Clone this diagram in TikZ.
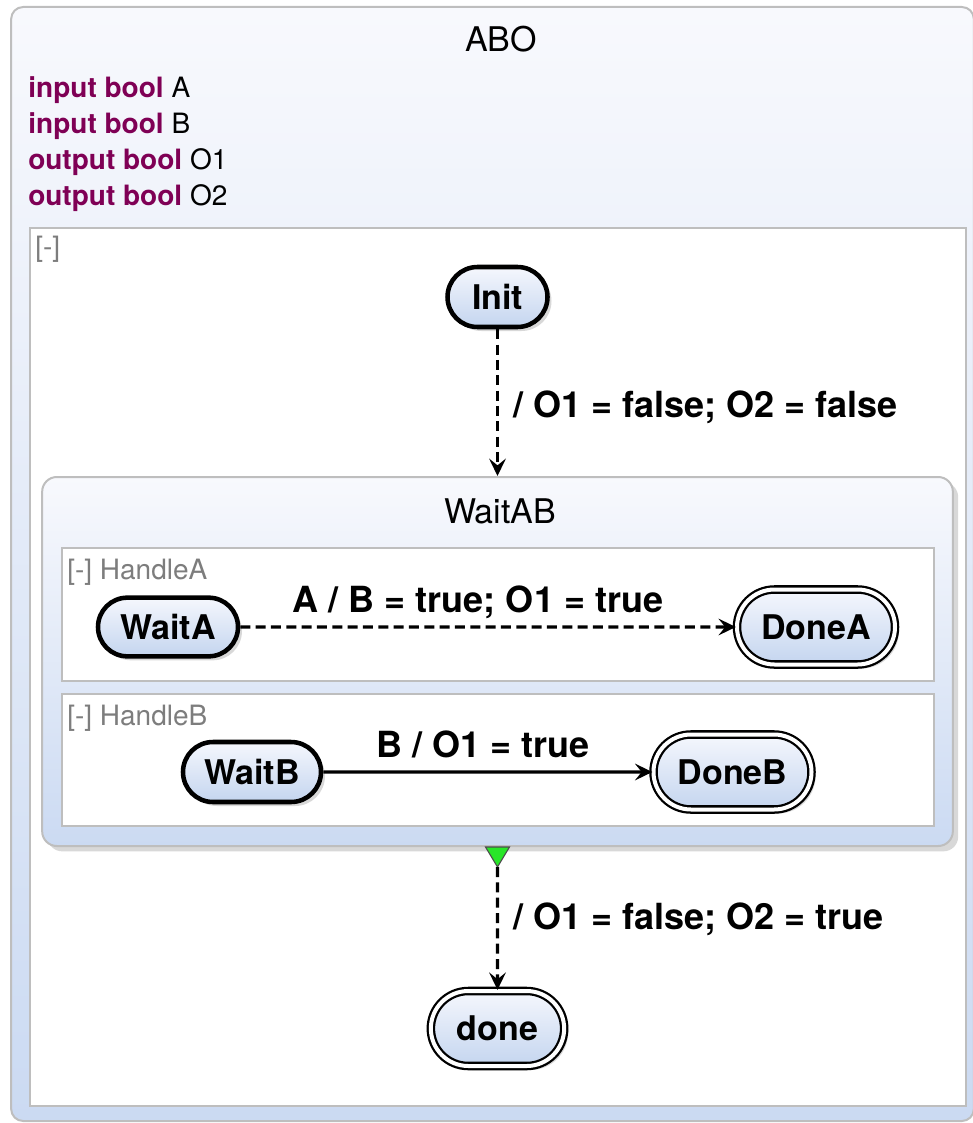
\documentclass[tikz,border=0pt]{standalone}
\usepackage{fontspec}
\setmainfont{TeX Gyre Heros}
\usetikzlibrary{shapes.misc,shadows,arrows.meta,calc}
\definecolor{kw}{RGB}{127,0,85}
\definecolor{boxgrey}{RGB}{190,190,190}
\definecolor{bluetop}{RGB}{248,249,253}
\definecolor{bluebot}{RGB}{203,218,242}
\definecolor{nodetop}{RGB}{245,247,253}
\definecolor{nodebot}{RGB}{196,213,239}
\definecolor{labgrey}{RGB}{125,125,125}
\definecolor{initgreen}{RGB}{40,230,40}
\begin{document}
\begin{tikzpicture}[x=0.75pt,y=-0.75pt,
  outerbox/.style={rectangle, rounded corners=9pt, draw=boxgrey, line width=1.5pt,
    top color=bluetop, bottom color=bluebot, inner sep=0pt},
  regionbox/.style={rectangle, draw=boxgrey, line width=1.5pt, fill=white, inner sep=0pt},
  compbox/.style={rectangle, rounded corners=11pt, draw=boxgrey, line width=1.5pt,
    top color=bluetop, bottom color=bluebot, inner sep=0pt,
    drop shadow={shadow xshift=4pt, shadow yshift=-4pt, opacity=0.3}},
  statebox/.style={rounded rectangle, draw=black, line width=3.4pt,
    top color=nodetop, bottom color=nodebot, inner sep=0pt,
    font=\fontsize{25.5}{30}\selectfont\bfseries,
    drop shadow={shadow xshift=3pt, shadow yshift=-3pt, opacity=0.3}},
  finalbox/.style={rounded rectangle, draw=black, line width=1.7pt, double=white,
    double distance=3pt, top color=nodetop, bottom color=nodebot, inner sep=0pt,
    font=\fontsize{25.5}{30}\selectfont\bfseries,
    drop shadow={shadow xshift=3pt, shadow yshift=-3pt, opacity=0.3}},
  trans/.style={line width=2.6pt, -{Stealth[length=13pt,width=12.5pt,inset=5pt]}},
  dashtrans/.style={dash pattern=on 7.5pt off 4pt},
  tlabel/.style={inner sep=0pt, font=\fontsize{27}{32}\selectfont\bfseries},
  decl/.style={inner sep=0pt, anchor=base west, font=\fontsize{21}{25}\selectfont},
  reglabel/.style={inner sep=0pt, anchor=base west, text=labgrey, font=\fontsize{21}{25}\selectfont},
  titlelabel/.style={inner sep=0pt, anchor=base, font=\fontsize{25.5}{30}\selectfont}
]
\useasboundingbox (0,0) rectangle (973,1123);
% outer state ABO
\node[outerbox, minimum width=722pt, minimum height=835.5pt] (ABO) at (492.5,564) {};
\node[titlelabel] (ABOtitle) at (501,52) {ABO};
\node[decl] (d1) at (28,98) {\textcolor{kw}{\bfseries input bool} A};
\node[decl] (d2) at (28,134) {\textcolor{kw}{\bfseries input bool} B};
\node[decl] (d3) at (28,170) {\textcolor{kw}{\bfseries output bool} O1};
\node[decl] (d4) at (28,206) {\textcolor{kw}{\bfseries output bool} O2};
% body region
\node[regionbox, minimum width=702pt, minimum height=658.5pt] (body) at (498,667) {};
\node[reglabel] (bodylab) at (35,256) {[-]};
% Init
\node[statebox, minimum width=75pt, minimum height=45pt] (Init) at (497.5,297) {Init};
% WaitAB
\node[compbox, minimum width=683pt, minimum height=276.75pt] (WaitAB) at (497.5,661.5) {};
\node[titlelabel] (WaitABtitle) at (500,523) {WaitAB};
\node[regionbox, minimum width=654pt, minimum height=99.75pt] (HandleA) at (498,614.5) {};
\node[reglabel] (HandleAlab) at (67,579) {[-] HandleA};
\node[regionbox, minimum width=654pt, minimum height=99pt] (HandleB) at (498,760) {};
\node[reglabel] (HandleBlab) at (67,725) {[-] HandleB};
\node[statebox, minimum width=105pt, minimum height=44pt] (WaitA) at (168,627) {WaitA};
\node[finalbox, minimum width=118.5pt, minimum height=56.25pt] (DoneA) at (816,627) {DoneA};
\node[statebox, minimum width=103.5pt, minimum height=45pt] (WaitB) at (252,772) {WaitB};
\node[finalbox, minimum width=118.5pt, minimum height=56.25pt] (DoneB) at (732.5,772) {DoneB};
\node[finalbox, minimum width=100pt, minimum height=56.25pt] (done) at (497.5,1028.5) {done};
% transitions
\draw[trans, dashtrans] (Init.south) -- (Init.south |- WaitAB.north);
\node[tlabel, anchor=base west] (l1) at (513,417) {/ O1 = false; O2 = false};
\draw[trans, dashtrans] (WaitA) -- (DoneA);
\node[tlabel, anchor=base] (l2) at (478,612) {A / B = true; O1 = true};
\draw[trans] (WaitB) -- (DoneB);
\node[tlabel, anchor=base] (l3) at (483,757) {B / O1 = true};
\coordinate (tipTop) at (WaitAB.south);
\coordinate (tip) at ($(WaitAB.south)+(0,20)$);
\draw[fill=initgreen, draw=black!70, line width=0.8pt] ($(tipTop)+(-12,0)$) -- ($(tipTop)+(12,0)$) -- (tip) -- cycle;
\draw[trans, dashtrans] (tip) -- (done);
\node[tlabel, anchor=base west] (l4) at (513,929) {/ O1 = false; O2 = true};
\end{tikzpicture}
\end{document}
